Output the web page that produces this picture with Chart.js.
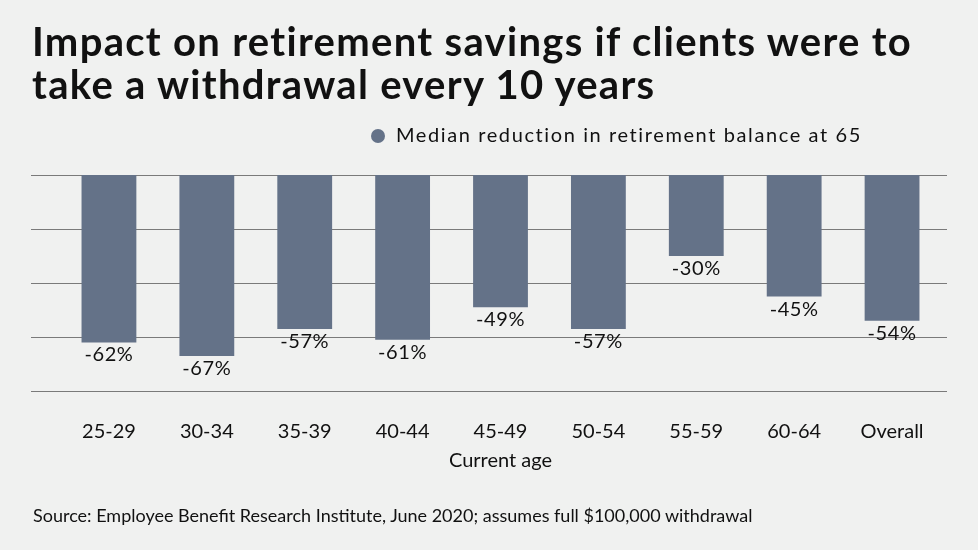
<!DOCTYPE html>
<html>
<head>
<meta charset="utf-8">
<script src="https://cdn.jsdelivr.net/npm/chart.js@4.4.1/dist/chart.umd.min.js"></script>
<style>
  html, body { margin: 0; padding: 0; background: #f0f1f0; }
  #wrap { position: relative; width: 978px; height: 550px; font-family: Lato, sans-serif; color: #111; }
  #title { position: absolute; left: 32px; top: 20px; font-size: 40px; font-weight: 700; line-height: 43px; letter-spacing: 1.3px; margin: 0; }
  #legend { position: absolute; left: 371px; top: 121px; font-size: 20px; line-height: 26px; letter-spacing: 1.6px; }
  #legend .dot { display: inline-block; width: 14px; height: 14px; border-radius: 50%; background: #647288; margin-right: 11px; vertical-align: -1px; }
  #source { position: absolute; left: 33px; top: 504px; font-size: 18px; }
  canvas { position: absolute; left: 0; top: 0; }
</style>
</head>
<body>
<div id="wrap">
  <canvas id="chart" width="978" height="550"></canvas>
  <h1 id="title">Impact on retirement savings if clients were to<br>take a withdrawal every 10 years</h1>
  <div id="legend"><span class="dot"></span>Median reduction in retirement balance at 65</div>
  <div id="source">Source: Employee Benefit Research Institute, June 2020; assumes full $100,000 withdrawal</div>
</div>
<script>
var categories = ["25-29", "30-34", "35-39", "40-44", "45-49", "50-54", "55-59", "60-64", "Overall"];
var reduction = [-62, -67, -57, -61, -49, -57, -30, -45, -54];
var gridValues = [0, -20, -40, -60, -80];

var barColor = "#647288";

// horizontal rules, wider than the bar area
var gridLines = {
    id: "gridLines",
    beforeDatasetsDraw: function (chart) {
        var ctx = chart.ctx;
        var y = chart.scales.y;
        ctx.save();
        ctx.strokeStyle = "#7a7a7a";
        ctx.lineWidth = 1.2;
        gridValues.forEach(function (v) {
            var py = Math.round(y.getPixelForValue(v)) + 0.5;
            ctx.beginPath();
            ctx.moveTo(31, py);
            ctx.lineTo(947, py);
            ctx.stroke();
        });
        ctx.restore();
    }
};

// value labels under each bar
var valueLabels = {
    id: "valueLabels",
    afterDatasetsDraw: function (chart) {
        var ctx = chart.ctx;
        var meta = chart.getDatasetMeta(0);
        ctx.save();
        ctx.font = "20px Lato";
        ctx.letterSpacing = "0.6px";
        ctx.fillStyle = "#111";
        ctx.textAlign = "center";
        ctx.textBaseline = "alphabetic";
        meta.data.forEach(function (bar, i) {
            ctx.fillText(reduction[i] + "%", bar.x, bar.y + 19);
        });
        ctx.restore();
    }
};

var ctx = document.getElementById("chart");

var myChart = new Chart(ctx, {
    type: "bar",
    data: {
        labels: categories,
        datasets: [{
            label: "Median reduction in retirement balance at 65",
            backgroundColor: barColor,
            borderWidth: 0,
            barPercentage: 0.56,
            categoryPercentage: 1,
            data: reduction
        }]
    },
    options: {
        responsive: false,
        animation: false,
        devicePixelRatio: 1,
        layout: { padding: { top: 175, left: 60, right: 37, bottom: 0 } },
        plugins: {
            legend: { display: false },
            tooltip: { enabled: false }
        },
        scales: {
            y: {
                display: false,
                min: -80,
                max: 0
            },
            x: {
                grid: { display: false },
                border: { display: false },
                ticks: {
                    color: "#111",
                    font: { family: "Lato", size: 20 },
                    padding: 21
                },
                title: {
                    display: true,
                    text: "Current age",
                    color: "#111",
                    font: { family: "Lato", size: 20 },
                    padding: { top: 0, bottom: 77 }
                },
                afterFit: function (scale) {
                    scale.height = 159;
                }
            }
        }
    },
    plugins: [gridLines, valueLabels]
});
</script>
</body>
</html>
